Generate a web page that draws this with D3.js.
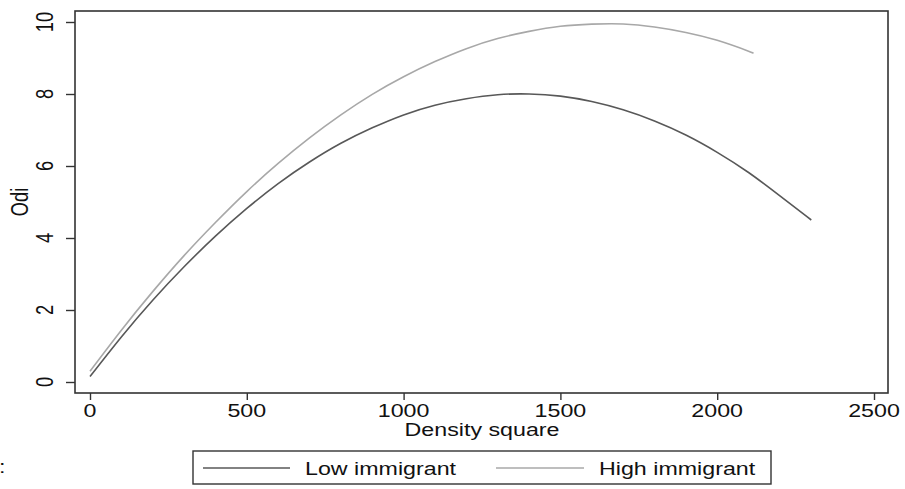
<!DOCTYPE html>
<html>
<head>
<meta charset="utf-8">
<script src="https://cdn.jsdelivr.net/npm/d3@7"></script>
<style>
  body { margin: 0; background: #fff; }
  svg { display: block; font-family: "Liberation Sans", Arial, sans-serif; }
</style>
</head>
<body>
<div id="chart"></div>
<script>
// values
let density = [0, 100, 200, 300, 400, 500, 600, 700, 800, 900, 1000, 1100, 1200,
  1300, 1400, 1500, 1600, 1700, 1800, 1900, 2000, 2100, 2200, 2300];
let lowOdi = [0.15, 1.25, 2.27, 3.2, 4.05, 4.82, 5.51, 6.11, 6.63, 7.06, 7.42, 7.69, 7.87,
  7.98, 8.0, 7.94, 7.79, 7.56, 7.25, 6.86, 6.38, 5.82, 5.17, 4.5];
let densityHigh = [0, 100, 200, 300, 400, 500, 600, 700, 800, 900, 1000, 1100, 1200,
  1300, 1400, 1500, 1600, 1700, 1800, 1900, 2000, 2100, 2110];
let highOdi = [0.3, 1.44, 2.51, 3.51, 4.43, 5.29, 6.07, 6.78, 7.42, 7.99, 8.48, 8.9, 9.26,
  9.54, 9.74, 9.88, 9.94, 9.945, 9.86, 9.71, 9.49, 9.19, 9.15];
let xTicks = [0, 500, 1000, 1500, 2000, 2500];
let yTicks = [0, 2, 4, 6, 8, 10];
let seriesNames = ['Low immigrant', 'High immigrant'];
let seriesColors = ['#585858', '#a8a8a8'];

const W = 905, H = 489;
const sx = 1.27;  // the picture is stretched sideways, so is the text
const fs = 18.3;

let svg = d3.select('#chart').append('svg').attr('width', W).attr('height', H);

let xScale = d3.scaleLinear().domain([0, 2500]).range([90, 874]);
let yScale = d3.scaleLinear().domain([0, 10]).range([382, 22]);

const box = { left: 75, right: 888, top: 11, bottom: 393 };

// stretched text helper
function label(x, y, txt, anchor, rot) {
  let g = svg.append('g').attr('transform', `translate(${x},${y}) scale(${sx},1)`);
  g.append('text')
    .attr('text-anchor', anchor)
    .attr('transform', rot ? `rotate(${rot})` : null)
    .attr('font-size', fs)
    .attr('fill', '#111')
    .text(txt);
}

// curves
let line = d3.line().x(d => xScale(d[0])).y(d => yScale(d[1])).curve(d3.curveNatural);
let low = density.map((d, i) => [d, lowOdi[i]]);
let high = densityHigh.map((d, i) => [d, highOdi[i]]);
[low, high].forEach(function(pts, i) {
  svg.append('path').datum(pts)
    .attr('d', line)
    .attr('fill', 'none')
    .attr('stroke', seriesColors[i])
    .attr('stroke-width', 1.6);
});

// plot box
svg.append('rect')
  .attr('x', box.left).attr('y', box.top)
  .attr('width', box.right - box.left).attr('height', box.bottom - box.top)
  .attr('fill', 'none').attr('stroke', '#333').attr('stroke-width', 1.6);

// x axis
let bottomAxis = d3.axisBottom(xScale).tickValues(xTicks).tickSize(7).tickFormat('');
svg.append('g').attr('transform', `translate(0,${box.bottom})`).call(bottomAxis)
  .call(g => g.select('.domain').remove())
  .call(g => g.selectAll('line').attr('stroke', '#333').attr('stroke-width', 1.4));
xTicks.forEach(t => label(xScale(t), 417, t, 'middle'));

// y axis
let leftAxis = d3.axisLeft(yScale).tickValues(yTicks).tickSize(9).tickFormat('');
svg.append('g').attr('transform', `translate(${box.left},0)`).call(leftAxis)
  .call(g => g.select('.domain').remove())
  .call(g => g.selectAll('line').attr('stroke', '#333').attr('stroke-width', 1.4));
yTicks.forEach(t => label(53, yScale(t), t, 'middle', -90));

// axis titles
label(482, 436, 'Density square', 'middle');
label(28, 202, 'Odi', 'middle', -90);

// stray mark at left edge
label(-1, 473, ':', 'start');

// legend
svg.append('rect')
  .attr('x', 193).attr('y', 451).attr('width', 578).attr('height', 33)
  .attr('fill', 'none').attr('stroke', '#333').attr('stroke-width', 1.4);
let legX = [[203, 290, 305], [496, 584, 599]];
seriesNames.forEach(function(n, i) {
  svg.append('line')
    .attr('x1', legX[i][0]).attr('x2', legX[i][1])
    .attr('y1', 468).attr('y2', 468)
    .attr('stroke', seriesColors[i]).attr('stroke-width', 1.6);
  label(legX[i][2], 475, n, 'start');
});
</script>
</body>
</html>
